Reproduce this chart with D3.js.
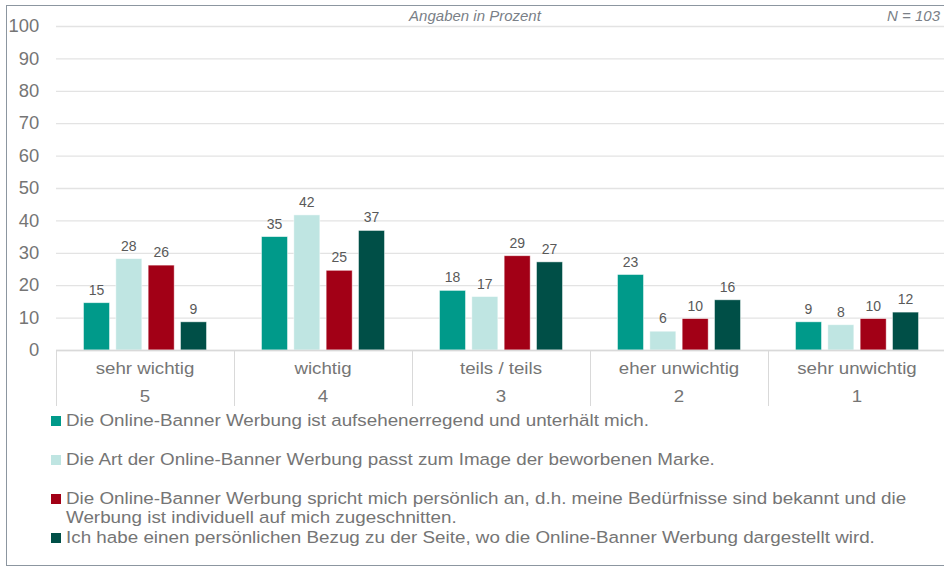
<!DOCTYPE html>
<html>
<head>
<meta charset="utf-8">
<script src="https://cdn.jsdelivr.net/npm/d3@7"></script>
<style>
  body { margin: 0; background: #fff; }
  svg { display: block; font-family: "Liberation Sans", Arial, sans-serif; }
  .tick text { fill: #757575; }
  .value { fill: #595959; font-size: 14px; }
  .legend text { fill: #757575; font-size: 16.8px; }
</style>
</head>
<body>
<svg width="944" height="568"></svg>
<script>
(function (d3) {
  'use strict';

  // categories (label + score)
  const categories = ['sehr wichtig', 'wichtig', 'teils / teils', 'eher unwichtig', 'sehr unwichtig'];
  const scores = ['5', '4', '3', '2', '1'];

  // series names (legend), '|' marks the line break
  const seriesNames = [
    'Die Online-Banner Werbung ist aufsehenerregend und unterhält mich.',
    'Die Art der Online-Banner Werbung passt zum Image der beworbenen Marke.',
    'Die Online-Banner Werbung spricht mich persönlich an, d.h. meine Bedürfnisse sind bekannt und die|Werbung ist individuell auf mich zugeschnitten.',
    'Ich habe einen persönlichen Bezug zu der Seite, wo die Online-Banner Werbung dargestellt wird.'
  ];

  // values in percent, one array per series
  const unterhaelt = [14.6, 35.0, 18.4, 23.3, 8.7];
  const image = [28.2, 41.7, 16.5, 5.8, 7.8];
  const persoenlich = [26.2, 24.6, 29.1, 9.7, 9.7];
  const bezug = [8.7, 36.9, 27.2, 15.5, 11.7];
  const seriesValues = [unterhaelt, image, persoenlich, bezug];

  const yTicks = [0, 10, 20, 30, 40, 50, 60, 70, 80, 90, 100];

  const colors = ['#009a8a', '#bfe5e2', '#a20016', '#004f47'];

  const svg = d3.select('svg');

  // outer frame
  svg.append('rect')
    .attr('x', 6.5).attr('y', 5.5)
    .attr('width', 1000).attr('height', 560)
    .attr('fill', 'none')
    .attr('stroke', '#8c96a0');

  const plot = { left: 56, right: 946, top: 26, bottom: 350 };

  const x = d3.scaleBand()
    .domain(categories)
    .range([plot.left, plot.right]);

  const xInner = d3.scaleBand()
    .domain(d3.range(seriesValues.length))
    .range([0, x.bandwidth()])
    .paddingInner(0.195)
    .paddingOuter(0.85);

  const y = d3.scaleLinear()
    .domain([0, 100])
    .range([plot.bottom, plot.top]);

  // y axis with gridlines
  const yAxisG = svg.append('g')
    .attr('transform', `translate(${plot.left},0)`)
    .call(d3.axisLeft(y).tickValues(yTicks).tickSize(-(plot.right - plot.left)).tickPadding(16));
  yAxisG.select('.domain').remove();
  yAxisG.selectAll('.tick line').attr('stroke', '#e3e3e3').attr('stroke-width', 1.3);
  yAxisG.selectAll('.tick text')
    .attr('font-size', 17.5)
    .attr('font-family', '"Liberation Sans", Arial, sans-serif')
    .attr('transform', 'scale(1.05,1)');

  // header texts
  svg.append('text')
    .attr('x', 475).attr('y', 21)
    .attr('text-anchor', 'middle')
    .attr('font-size', 15).attr('font-style', 'italic')
    .attr('fill', '#7a7f87')
    .text('Angaben in Prozent');
  svg.append('text')
    .attr('x', 940).attr('y', 21)
    .attr('text-anchor', 'end')
    .attr('font-size', 15).attr('font-style', 'italic')
    .attr('fill', '#7a7f87')
    .text('N = 103');

  // bars
  const groups = svg.append('g').selectAll('g')
    .data(seriesValues)
    .join('g')
      .attr('fill', (d, i) => colors[i]);

  groups.selectAll('rect')
    .data((vals, si) => vals.map((v, ci) => ({ v, ci, si })))
    .join('rect')
      .attr('x', d => x(categories[d.ci]) + xInner(d.si))
      .attr('y', d => y(d.v))
      .attr('width', xInner.bandwidth())
      .attr('height', d => y(0) - y(d.v))
      .attr('stroke', '#ffffff')
      .attr('stroke-opacity', 0.6)
      .attr('stroke-width', 0.8);

  groups.selectAll('text')
    .data((vals, si) => vals.map((v, ci) => ({ v, ci, si })))
    .join('text')
      .attr('class', 'value')
      .attr('x', d => x(categories[d.ci]) + xInner(d.si) + xInner.bandwidth() / 2)
      .attr('y', d => y(d.v) - 8)
      .attr('text-anchor', 'middle')
      .text(d => Math.round(d.v));

  // x axis line + dividers
  const xAxisG = svg.append('g');
  xAxisG.append('line')
    .attr('x1', plot.left).attr('x2', plot.right)
    .attr('y1', y(0) + 0.5).attr('y2', y(0) + 0.5)
    .attr('stroke', '#d9d9d9').attr('stroke-width', 1.3);
  xAxisG.selectAll('line.divider')
    .data(categories.map(c => x(c)).concat([x.range()[1]]))
    .join('line')
      .attr('class', 'divider')
      .attr('x1', d => d + 0.5).attr('x2', d => d + 0.5)
      .attr('y1', y(0)).attr('y2', 406)
      .attr('stroke', '#d9d9d9');

  // category labels, a touch wider than the font, like the original
  xAxisG.selectAll('text.cat')
    .data(categories)
    .join('text')
      .attr('class', 'cat')
      .attr('transform', d => `translate(${x(d) + x.bandwidth() / 2},374) scale(1.1,1)`)
      .attr('text-anchor', 'middle')
      .attr('font-size', 17)
      .attr('fill', '#757575')
      .text(d => d);

  xAxisG.selectAll('text.score')
    .data(scores)
    .join('text')
      .attr('class', 'score')
      .attr('transform', (d, i) => `translate(${x(categories[i]) + x.bandwidth() / 2},402) scale(1.1,1)`)
      .attr('text-anchor', 'middle')
      .attr('font-size', 17)
      .attr('fill', '#757575')
      .text(d => d);

  // legend
  const legendY = [426, 465, 504, 543];
  const legend = svg.append('g').attr('class', 'legend');
  seriesNames.forEach((name, i) => {
    const row = legend.append('g');
    row.append('rect')
      .attr('x', 51).attr('y', legendY[i] - 10)
      .attr('width', 10).attr('height', 10)
      .attr('fill', colors[i]);
    const lines = name.split('|');
    const t = row.append('text')
      .attr('transform', `translate(66,${legendY[i]}) scale(1.12,1)`);
    lines.forEach((ln, j) => {
      t.append('tspan')
        .attr('x', 0)
        .attr('dy', j === 0 ? 0 : 19.5)
        .text(ln);
    });
  });

}(d3));
</script>
</body>
</html>
